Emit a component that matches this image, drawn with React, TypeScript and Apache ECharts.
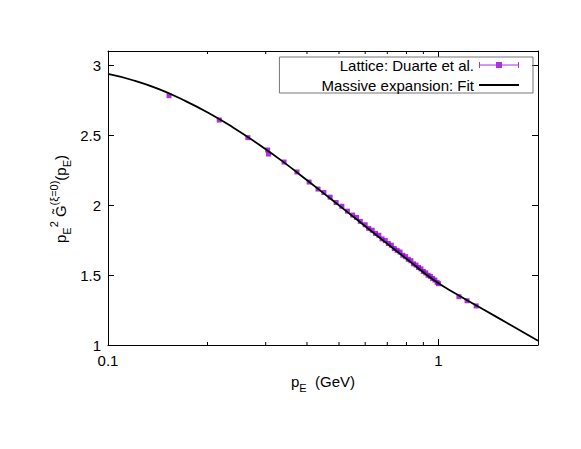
import React, { useEffect, useRef } from 'react';
import * as echarts from 'echarts';

// Lattice data (Duarte et al.): momentum p_E (GeV) and p_E^2 G(p_E)
const latticeP = [
  0.153, 0.217, 0.265, 0.304, 0.306, 0.341, 0.373, 0.406, 0.432,
  0.45, 0.47, 0.49, 0.51, 0.53, 0.55, 0.565, 0.58, 0.6, 0.615, 0.63, 0.645,
  0.66, 0.675, 0.69, 0.705, 0.72, 0.735, 0.75, 0.765, 0.78, 0.795, 0.81,
  0.825, 0.84, 0.855, 0.87, 0.885, 0.9, 0.915, 0.93, 0.945, 0.96, 0.975,
  0.99, 1.0, 1.153, 1.22, 1.3,
];
const latticeG = [
  2.781, 2.607, 2.481, 2.393, 2.364, 2.307, 2.236, 2.164, 2.114,
  2.089, 2.056, 2.018, 1.991, 1.956, 1.928, 1.911, 1.883, 1.859, 1.833, 1.82, 1.797,
  1.784, 1.758, 1.746, 1.725, 1.713, 1.689, 1.676, 1.664, 1.641, 1.631, 1.612,
  1.602, 1.58, 1.571, 1.554, 1.544, 1.525, 1.515, 1.498, 1.49, 1.475, 1.464,
  1.447, 1.438, 1.345, 1.316, 1.279,
];

// Massive expansion fit curve
const fitP = [0.1, 0.119, 0.142, 0.169, 0.201, 0.239, 0.284, 0.339, 0.403, 0.48, 0.571, 0.679, 0.809, 0.962, 1.146, 1.364, 1.623, 2.0];
const fitG = [2.936, 2.891, 2.829, 2.75, 2.659, 2.554, 2.437, 2.308, 2.171, 2.03, 1.889, 1.7475, 1.606, 1.468, 1.357, 1.255, 1.154, 1.03];

// Axis ticks
const xMinorTicks = [0.2, 0.3, 0.4, 0.5, 0.6, 0.7, 0.8, 0.9];
const xLabelValues = [0.1, 1];
const yMin = 1;
const yMax = 3.1;
const yStep = 0.5;

const seriesNames = ['Lattice: Duarte et al.', 'Massive expansion: Fit'];

export default function App() {
  const ref = useRef<HTMLDivElement>(null);

  useEffect(() => {
    const chart = echarts.init(ref.current!, undefined, { renderer: 'svg' });
    const font = '"Liberation Sans", Arial, sans-serif';
    const fs = 15;

    const xLabelFmt = (v: number) => {
      for (const l of xLabelValues) {
        if (Math.abs(v - l) < 1e-9) return String(l);
      }
      return '';
    };

    const rich = {
      m: { fontSize: fs, fontFamily: font, lineHeight: 24, color: '#000' },
      s: { fontSize: 11, fontFamily: font, lineHeight: 13, verticalAlign: 'bottom', color: '#000' },
      u: { fontSize: 11, fontFamily: font, lineHeight: 13, verticalAlign: 'top', color: '#000' },
    };

    const option: any = {
      animation: false,
      backgroundColor: '#fff',
      grid: { left: 108, right: 43, top: 51, bottom: 104, containLabel: false },
      legend: {
        orient: 'vertical',
        align: 'right',
        right: 48,
        top: 57,
        padding: [0, 14, 0, 42],
        itemGap: 4,
        itemWidth: 40,
        itemHeight: 8,
        borderColor: '#777',
        borderWidth: 1,
        textStyle: { fontSize: fs, fontFamily: font, color: '#000', lineHeight: 16 },
        data: [
          {
            name: seriesNames[0],
            icon: 'path://M0,3.5H40V4.5H0Z M0,1H1V7H0Z M39,1H40V7H39Z M17,1H23V7H17Z',
          },
          { name: seriesNames[1], icon: 'path://M0,0H40V2H0Z' },
        ],
        selectedMode: false,
      },
      xAxis: [
        {
          type: 'log',
          logBase: 10,
          min: 0.1,
          max: 2,
          position: 'bottom',
          axisLine: { show: true, onZero: false, lineStyle: { color: '#000', width: 1 } },
          axisTick: { show: true, inside: true, length: 6, lineStyle: { color: '#000' } },
          axisLabel: { formatter: xLabelFmt, fontSize: fs, fontFamily: font, color: '#000', margin: 8 },
          splitLine: { show: false },
        },
        {
          type: 'log',
          logBase: 10,
          min: 0.1,
          max: 2,
          position: 'top',
          axisLine: { show: true, onZero: false, lineStyle: { color: '#000', width: 1 } },
          axisTick: { show: true, inside: true, length: 6, lineStyle: { color: '#000' } },
          axisLabel: { show: false },
          splitLine: { show: false },
        },
      ],
      yAxis: [
        {
          type: 'value',
          min: yMin,
          max: yMax,
          interval: yStep,
          position: 'left',
          axisLine: { show: true, onZero: false, lineStyle: { color: '#000', width: 1 } },
          axisTick: { show: true, inside: true, length: 6, lineStyle: { color: '#000' } },
          axisLabel: {
            formatter: (v: number) => (v > 3.05 ? '' : String(v)),
            fontSize: fs,
            fontFamily: font,
            color: '#000',
            margin: 7,
          },
          splitLine: { show: false },
        },
        {
          type: 'value',
          min: yMin,
          max: yMax,
          interval: yStep,
          position: 'right',
          axisLine: { show: true, onZero: false, lineStyle: { color: '#000', width: 1 } },
          axisTick: { show: true, inside: true, length: 6, lineStyle: { color: '#000' } },
          axisLabel: { show: false },
          splitLine: { show: false },
        },
      ],
      series: [
        {
          name: 'minorTicks',
          type: 'custom',
          xAxisIndex: 0,
          yAxisIndex: 0,
          silent: true,
          z: 1,
          data: xMinorTicks.map((v) => [v, yMin]),
          renderItem: (params: any, api: any) => {
            const x = api.value(0);
            const b = api.coord([x, yMin]);
            const t = api.coord([x, yMax]);
            return {
              type: 'group',
              children: [
                { type: 'line', shape: { x1: b[0], y1: b[1], x2: b[0], y2: b[1] - 3 }, style: { stroke: '#000', lineWidth: 1 } },
                { type: 'line', shape: { x1: t[0], y1: t[1], x2: t[0], y2: t[1] + 3 }, style: { stroke: '#000', lineWidth: 1 } },
              ],
            };
          },
        },
        {
          name: seriesNames[0],
          type: 'scatter',
          xAxisIndex: 0,
          yAxisIndex: 0,
          symbol: 'rect',
          symbolSize: 5,
          z: 2,
          itemStyle: { color: '#9400d3' },
          data: latticeP.map((p, i) => [p, latticeG[i]]),
        },
        {
          name: seriesNames[1],
          type: 'line',
          xAxisIndex: 0,
          yAxisIndex: 0,
          smooth: 0.5,
          showSymbol: false,
          symbol: 'none',
          z: 3,
          itemStyle: { color: '#000' },
          lineStyle: { color: '#000', width: 1.8 },
          data: fitP.map((p, i) => [p, fitG[i]]),
        },
      ],
      graphic: [
        {
          type: 'text',
          x: 323,
          y: 381,
          style: {
            text: '{m|p}{s|E}{m|  (GeV)}',
            rich,
            align: 'center',
            verticalAlign: 'middle',
            fontSize: fs,
            fontFamily: font,
            fill: '#000',
          },
        },
        {
          type: 'text',
          x: 60,
          y: 199,
          rotation: Math.PI / 2,
          style: {
            text: '{m|p}{s|E}{u|2}{m| G\u0303}{u|(\u03be=0)}{m|(p}{s|E}{m|)}',
            rich,
            align: 'center',
            verticalAlign: 'middle',
            fontSize: fs,
            fontFamily: font,
            fill: '#000',
          },
        },
      ],
    };

    chart.setOption(option);
    return () => chart.dispose();
  }, []);

  return (
    <div
      ref={ref}
      style={{ position: 'fixed', left: 0, top: 0, width: 581, height: 449, background: '#fff' }}
    />
  );
}
